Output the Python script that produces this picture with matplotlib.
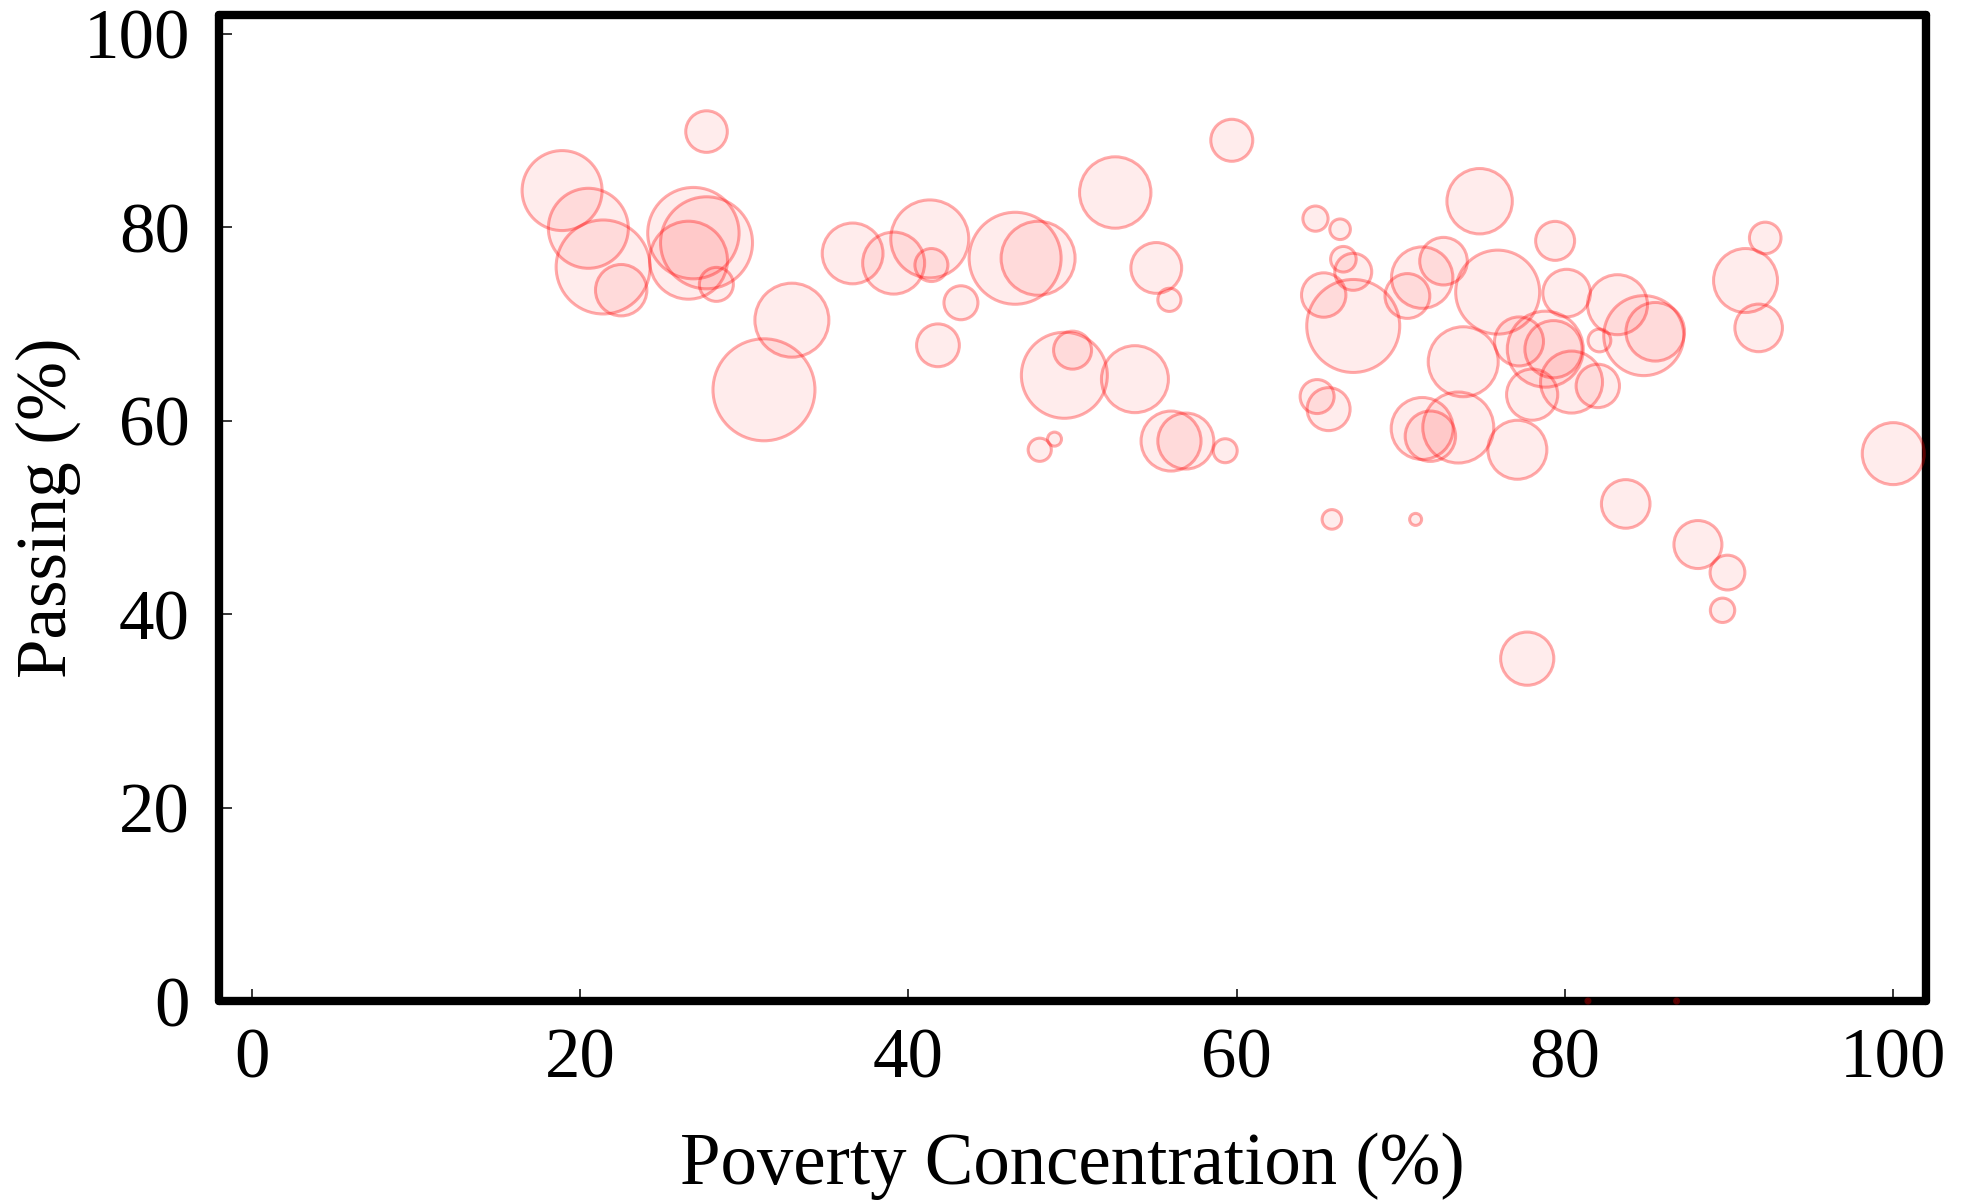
import matplotlib
matplotlib.use("Agg")
import matplotlib.pyplot as plt
import numpy as np

# Poverty concentration (%), passing (%), bubble radius (px at 100 dpi)
poverty = [18.9, 20.5, 21.4, 22.5, 27.7, 26.9, 27.7, 26.6, 28.3, 32.9,
           31.2, 36.6, 39.1, 41.3, 41.4, 43.2, 41.8, 46.5, 47.9, 52.6,
           55.1, 55.9, 49.5, 50.0, 53.8, 48.0, 48.9, 56.0, 56.9, 59.3,
           59.7,
           64.8, 66.3, 66.5, 67.1, 65.3, 67.1, 71.3, 72.6, 70.4, 74.8,
           75.9, 79.4, 80.1, 83.2, 84.8, 85.5, 77.2, 78.8, 79.3, 82.1,
           73.8, 78.0, 80.4, 82.0, 91.0, 92.2, 91.8, 64.9, 65.6, 71.3,
           71.8, 73.5, 77.1, 65.8, 70.9, 83.7, 88.1, 89.9, 100.0, 89.6,
           77.7, 81.4, 86.8]
passing = [83.8, 79.9, 75.9, 73.5, 89.9, 79.4, 78.4, 76.6, 74.1, 70.4,
           63.2, 77.3, 76.3, 78.8, 76.1, 72.2, 67.8, 76.8, 76.8, 83.6,
           75.8, 72.5, 64.7, 67.3, 64.3, 57.0, 58.1, 57.9, 57.9, 56.9,
           89.0,
           80.9, 79.8, 76.7, 75.4, 73.0, 69.8, 74.8, 76.5, 72.9, 82.7,
           73.3, 78.6, 73.2, 72.0, 68.8, 69.2, 68.2, 67.4, 67.4, 68.3,
           66.1, 62.7, 64.0, 63.6, 74.5, 78.9, 69.6, 62.5, 61.2, 59.2,
           58.4, 59.3, 57.0, 49.8, 49.8, 51.4, 47.2, 44.3, 56.6, 40.4,
           35.4, 0.0, 0.0]
radius = [40, 40, 47, 25.7, 20.8, 45.7, 46, 39, 17, 37,
          51, 30.4, 31, 39, 16.5, 17, 21.4, 46, 37, 35.7,
          25.4, 11.6, 43, 19, 33.5, 11.6, 7, 30, 28, 12,
          21,
          12.6, 10.3, 12.8, 18.5, 22.2, 46.5, 30.7, 23.8, 22.4, 32.7,
          42, 19.5, 23.8, 30, 40, 29.3, 24.5, 38, 28.6, 11.4,
          35, 25.6, 31, 21.7, 32, 15.8, 23.8, 17, 21.5, 31,
          25.2, 35.5, 29.5, 9.8, 6, 24.3, 24, 17.4, 31, 12.2,
          26.6, 2, 2]

plt.rcParams['font.family'] = ['Liberation Serif', 'DejaVu Serif']

fig = plt.figure(figsize=(19.68, 12.03), dpi=100)
ax = fig.add_axes([0.1113, 0.1679, 0.8674, 0.8200])

# marker size in points^2 from radius in px
sizes = (np.array(radius) * 2 * 72 / 100) ** 2
ax.scatter(poverty, passing, s=sizes,
           facecolor=(1, 0, 0, 0.075), edgecolor=(1, 0, 0, 0.33),
           linewidth=2.2, zorder=3, clip_on=False)

ax.set_xlim(-2, 102)
ax.set_ylim(0, 102)
ax.set_xticks([0, 20, 40, 60, 80, 100])
ax.set_yticks([0, 20, 40, 60, 80, 100])

for sp in ax.spines.values():
    sp.set_linewidth(6)
    sp.set_capstyle('round')
    sp.set_zorder(2)

ax.tick_params(direction='in', length=9, width=1.1, labelsize=51)
ax.tick_params(axis='x', pad=19)
ax.tick_params(axis='y', pad=21)
ax.set_xlabel('Poverty Concentration (%)', fontsize=52.5, labelpad=29)
ax.set_ylabel('Passing (%)', fontsize=51, labelpad=2)

fig.savefig('out.png', dpi=100)
